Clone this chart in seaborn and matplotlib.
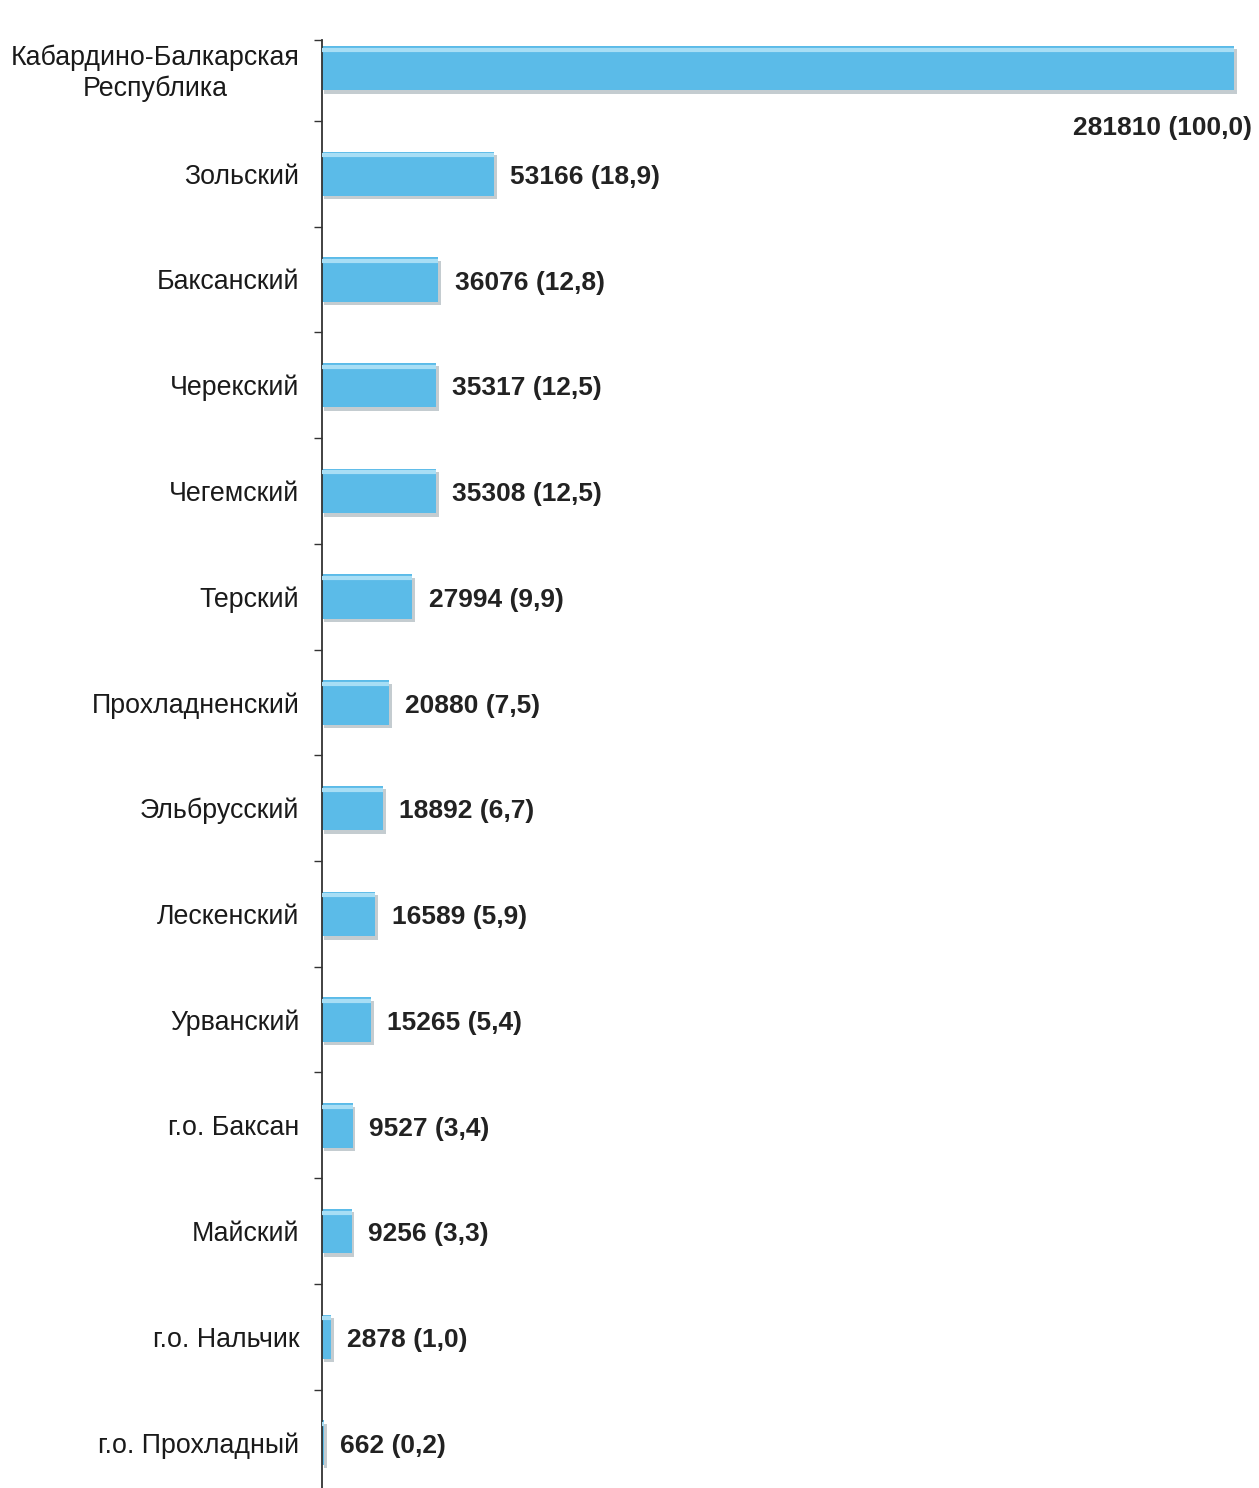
import matplotlib
matplotlib.use("Agg")
import matplotlib.pyplot as plt
import matplotlib.patheffects as pe
import seaborn as sns
import pandas as pd

districts = ["Кабардино-Балкарская\nРеспублика", "Зольский", "Баксанский", "Черекский",
             "Чегемский", "Терский", "Прохладненский", "Эльбрусский", "Лескенский",
             "Урванский", "г.о. Баксан", "Майский", "г.о. Нальчик", "г.о. Прохладный"]
counts = [281810, 53166, 36076, 35317, 35308, 27994, 20880, 18892, 16589, 15265,
          9527, 9256, 2878, 662]
shares = ["100,0", "18,9", "12,8", "12,5", "12,5", "9,9", "7,5", "6,7", "5,9", "5,4",
          "3,4", "3,3", "1,0", "0,2"]

df = pd.DataFrame({"district": districts, "count": counts})

sns.set_style("white")
plt.rcParams['font.family'] = ['Liberation Sans', 'DejaVu Sans']

fig = plt.figure(figsize=(12.59, 14.88), dpi=100)
ax = fig.add_axes([0.2555, 0.0, 0.7445, 1 - 40 / 1488])

sns.barplot(data=df, y="district", x="count", orient="h", color="#5bbbe8",
            width=0.42, saturation=1, ax=ax, edgecolor="none")

for p in ax.patches:
    p.set_path_effects([pe.SimplePatchShadow(offset=(2, -2.5), shadow_rgbFace="#8a9aa2", alpha=0.5),
                        pe.Normal()])
    # light top rim
    x0, y0 = p.get_x(), p.get_y()
    ax.plot([x0, x0 + p.get_width()], [y0 + 0.035, y0 + 0.035], color="#a8def5", lw=3,
            solid_capstyle="butt", zorder=3)

ax.set_xlim(0, 289500)
ax.set_ylim(13.43, -0.265)

for i, (c, s) in enumerate(zip(counts, shares)):
    txt = f"{c} ({s})"
    if i == 0:
        ax.text(c + 5500, i + 0.57, txt, ha="right", va="center", fontsize=19,
                fontweight="bold", color="#222222")
    else:
        ax.text(c + 5000, i + 0.03, txt, ha="left", va="center", fontsize=19,
                fontweight="bold", color="#222222")

ax.set_xlabel("")
ax.set_ylabel("")
ax.set_xticks([])
ax.tick_params(axis="y", which="major", length=0, pad=16, labelsize=19.3, labelcolor="#1a1a1a")
for lbl in ax.get_yticklabels():
    lbl.set_multialignment("center")
ax.set_yticks([-0.265] + [i + 0.5 for i in range(13)], minor=True)
ax.tick_params(axis="y", which="minor", left=True, length=6, width=1, color="#333333",
               direction="out")

for side in ["top", "right", "bottom"]:
    ax.spines[side].set_visible(False)
ax.spines["left"].set_color("#333333")
ax.spines["left"].set_linewidth(1.3)

fig.savefig("out.png", dpi=100, facecolor="white")
